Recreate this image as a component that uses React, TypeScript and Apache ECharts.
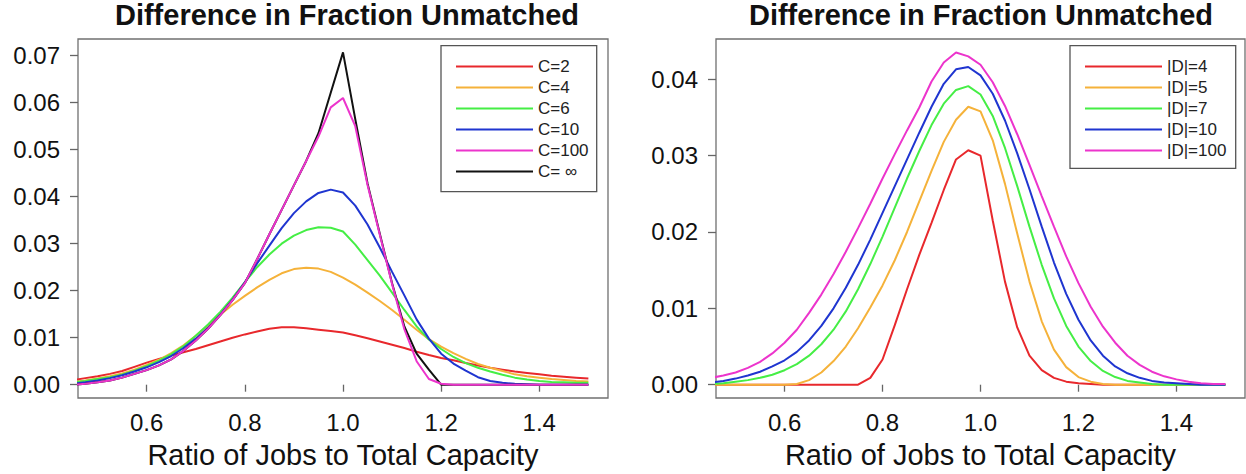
import React, { useEffect, useRef } from "react";
import * as echarts from "echarts";

const FONT = '"Liberation Sans", Arial, Helvetica, sans-serif';
const TITLE = "Difference in Fraction Unmatched";
const X_TITLE = "Ratio of Jobs to Total Capacity";

const X = [0.45, 0.475, 0.5, 0.525, 0.55, 0.575, 0.6, 0.625, 0.65, 0.675, 0.7, 0.725, 0.75, 0.775, 0.8, 0.825, 0.85, 0.875, 0.9, 0.925, 0.95, 0.975, 1.0, 1.025, 1.05, 1.075, 1.1, 1.125, 1.15, 1.175, 1.2, 1.225, 1.25, 1.275, 1.3, 1.325, 1.35, 1.375, 1.4, 1.425, 1.45, 1.475, 1.5];
const X_TICKS = [0.6, 0.8, 1.0, 1.2, 1.4];
const Y_TICKS_LEFT = [0, 0.01, 0.02, 0.03, 0.04, 0.05, 0.06, 0.07];
const Y_TICKS_RIGHT = [0, 0.01, 0.02, 0.03, 0.04];

// Left panel
const C2 = [0.0010, 0.0014, 0.0018, 0.0023, 0.0029, 0.0038, 0.0047, 0.0055, 0.0062, 0.0069, 0.0076, 0.0084, 0.0092, 0.0100, 0.0107, 0.0113, 0.0119, 0.0122, 0.0122, 0.0120, 0.0117, 0.0114, 0.0111, 0.0105, 0.0099, 0.0092, 0.0085, 0.0078, 0.0070, 0.0063, 0.0057, 0.0052, 0.0046, 0.0041, 0.0036, 0.0032, 0.0028, 0.0025, 0.0022, 0.0019, 0.0017, 0.0015, 0.0013];
const C4 = [0.0006, 0.0009, 0.0013, 0.0018, 0.0024, 0.0032, 0.0042, 0.0053, 0.0067, 0.0084, 0.0104, 0.0126, 0.0149, 0.0170, 0.0189, 0.0207, 0.0223, 0.0237, 0.0246, 0.0249, 0.0247, 0.0240, 0.0228, 0.0213, 0.0196, 0.0178, 0.0159, 0.0138, 0.0117, 0.0097, 0.0081, 0.0067, 0.0055, 0.0044, 0.0036, 0.0029, 0.0022, 0.0018, 0.0015, 0.0012, 0.0010, 0.0008, 0.0007];
const C6 = [0.0005, 0.0008, 0.0012, 0.0016, 0.0022, 0.0030, 0.0040, 0.0051, 0.0065, 0.0082, 0.0104, 0.0128, 0.0155, 0.0185, 0.0218, 0.0250, 0.0277, 0.0300, 0.0317, 0.0329, 0.0335, 0.0334, 0.0326, 0.0298, 0.0265, 0.0232, 0.0196, 0.0159, 0.0124, 0.0096, 0.0076, 0.0059, 0.0046, 0.0036, 0.0028, 0.0021, 0.0015, 0.0011, 0.0008, 0.0006, 0.0005, 0.0004, 0.0004];
const C10 = [0.0002, 0.0005, 0.0009, 0.0014, 0.0020, 0.0028, 0.0037, 0.0048, 0.0061, 0.0078, 0.0098, 0.0121, 0.0149, 0.0181, 0.0218, 0.0258, 0.0296, 0.0333, 0.0365, 0.0390, 0.0408, 0.0415, 0.0409, 0.0381, 0.0341, 0.0292, 0.0240, 0.0190, 0.0139, 0.0098, 0.0066, 0.0045, 0.0030, 0.0016, 0.0008, 0.0004, 0.0002, 0.0001, 0, 0, 0, 0, 0];
const C100 = [0.0000, 0.0002, 0.0005, 0.0009, 0.0015, 0.0023, 0.0031, 0.0041, 0.0054, 0.0072, 0.0094, 0.0119, 0.0148, 0.0180, 0.0216, 0.0267, 0.0320, 0.0372, 0.0424, 0.0476, 0.0528, 0.0590, 0.0610, 0.0550, 0.0425, 0.0319, 0.0214, 0.0118, 0.0050, 0.0012, 0.0002, 0, 0, 0, 0, 0, 0, 0, 0, 0, 0, 0, 0];
const CINF = [0.0000, 0.0002, 0.0005, 0.0009, 0.0015, 0.0023, 0.0031, 0.0041, 0.0054, 0.0072, 0.0094, 0.0119, 0.0148, 0.0180, 0.0216, 0.0267, 0.0320, 0.0372, 0.0424, 0.0476, 0.0535, 0.0621, 0.0707, 0.0565, 0.0428, 0.0321, 0.0216, 0.0124, 0.0066, 0.0032, 0.0000, 0, 0, 0, 0, 0, 0, 0, 0, 0, 0, 0, 0];

// Right panel
const D4 = [0, 0, 0, 0, 0, 0, 0, 0, 0, 0, 0, 0, 0, 0.0009, 0.0033, 0.0078, 0.0125, 0.0170, 0.0212, 0.0255, 0.0295, 0.0307, 0.0300, 0.0215, 0.0135, 0.0075, 0.0038, 0.0019, 0.0009, 0.0004, 0.0002, 0.0001, 0, 0, 0, 0, 0, 0, 0, 0, 0, 0, 0];
const D5 = [0, 0, 0, 0, 0, 0, 0, 0.0001, 0.0006, 0.0016, 0.0031, 0.0050, 0.0074, 0.0101, 0.0130, 0.0163, 0.0200, 0.0240, 0.0280, 0.0318, 0.0347, 0.0364, 0.0358, 0.0320, 0.0263, 0.0198, 0.0135, 0.0083, 0.0046, 0.0023, 0.0010, 0.0004, 0.0001, 0, 0, 0, 0, 0, 0, 0, 0, 0, 0];
const D7 = [0.0001, 0.0002, 0.0004, 0.0006, 0.0009, 0.0013, 0.0019, 0.0027, 0.0038, 0.0053, 0.0072, 0.0096, 0.0125, 0.0158, 0.0194, 0.0232, 0.0270, 0.0306, 0.0340, 0.0368, 0.0386, 0.0391, 0.0380, 0.0352, 0.0310, 0.0260, 0.0207, 0.0157, 0.0113, 0.0077, 0.0050, 0.0031, 0.0018, 0.0010, 0.0005, 0.0003, 0.0001, 0, 0, 0, 0, 0, 0];
const D10 = [0.0003, 0.0005, 0.0008, 0.0012, 0.0017, 0.0024, 0.0032, 0.0043, 0.0058, 0.0077, 0.0100, 0.0127, 0.0157, 0.0190, 0.0225, 0.0260, 0.0295, 0.0330, 0.0364, 0.0394, 0.0413, 0.0416, 0.0405, 0.0381, 0.0346, 0.0303, 0.0256, 0.0207, 0.0160, 0.0119, 0.0085, 0.0058, 0.0038, 0.0024, 0.0015, 0.0009, 0.0005, 0.0003, 0.0002, 0.0001, 0, 0, 0];
const D100 = [0.0009, 0.0012, 0.0016, 0.0022, 0.0030, 0.0041, 0.0055, 0.0072, 0.0094, 0.0118, 0.0145, 0.0174, 0.0205, 0.0237, 0.0270, 0.0302, 0.0333, 0.0363, 0.0397, 0.0422, 0.0435, 0.0430, 0.0419, 0.0396, 0.0365, 0.0328, 0.0288, 0.0247, 0.0207, 0.0168, 0.0133, 0.0102, 0.0076, 0.0055, 0.0038, 0.0026, 0.0017, 0.0011, 0.0007, 0.0004, 0.0002, 0.0001, 0.0001];

const LEFT_NAMES = ["C=2", "C=4", "C=6", "C=10", "C=100", "C= \u221e"];
const RIGHT_NAMES = ["|D|=4", "|D|=5", "|D|=7", "|D|=10", "|D|=100"];

const RED = "#e8282c";
const ORANGE = "#f5b23a";
const GREEN = "#45ee45";
const BLUE = "#1f35d0";
const MAGENTA = "#ec34cc";
const BLACK = "#111111";

function pairs(ys: number[]) {
  return X.map((x, i) => [x, ys[i]]);
}

function line(name: string, ys: number[], color: string, idx: number) {
  return {
    name,
    type: "line",
    xAxisIndex: idx,
    yAxisIndex: idx,
    data: pairs(ys),
    symbol: "none",
    showSymbol: false,
    clip: true,
    color,
    lineStyle: { color, width: 2 },
    emphasis: { disabled: true },
  };
}

function xAxis(idx: number) {
  return {
    gridIndex: idx,
    type: "value",
    min: 0.46,
    max: 1.54,
    axisLine: { show: false },
    axisTick: { show: true, inside: false, length: 7, customValues: X_TICKS, lineStyle: { color: "#666", width: 1.3 } },
    axisLabel: { customValues: X_TICKS, formatter: (v: number) => v.toFixed(1), fontSize: 24, color: "#111", margin: 12, fontFamily: FONT },
    splitLine: { show: false },
    name: X_TITLE,
    nameLocation: "middle",
    nameGap: 42,
    nameTextStyle: { fontSize: 29, color: "#111", fontFamily: FONT },
  };
}

function yAxis(idx: number, min: number, max: number, ticks: number[]) {
  return {
    gridIndex: idx,
    type: "value",
    min,
    max,
    axisLine: { show: false },
    axisTick: { show: true, inside: false, length: 8, customValues: ticks, lineStyle: { color: "#666", width: 1.3 } },
    axisLabel: { customValues: ticks, formatter: (v: number) => v.toFixed(2), fontSize: 24, color: "#111", margin: 18, fontFamily: FONT },
    splitLine: { show: false },
  };
}

function legend(names: string[], left: number) {
  return {
    data: names.map((n) => ({ name: n, icon: "rect" })),
    orient: "vertical",
    left,
    top: 56,
    padding: 0,
    itemGap: 0,
    itemWidth: 77,
    itemHeight: 2,
    z: 6,
    selectedMode: false,
    textStyle: { fontSize: 17, color: "#222", lineHeight: 21, fontFamily: FONT },
  };
}

export default function App() {
  const ref = useRef<HTMLDivElement>(null);
  useEffect(() => {
    if (!ref.current) return;
    const chart = echarts.init(ref.current, undefined, { renderer: "svg" });
    chart.setOption({
      animation: false,
      backgroundColor: "#ffffff",
      textStyle: { fontFamily: FONT },
      grid: [
        { left: 78, top: 39, width: 530, height: 359, show: true, borderColor: "#707070", borderWidth: 1.3, backgroundColor: "transparent" },
        { left: 716, top: 39, width: 529, height: 359, show: true, borderColor: "#707070", borderWidth: 1.3, backgroundColor: "transparent" },
      ],
      xAxis: [xAxis(0), xAxis(1)],
      yAxis: [yAxis(0, -0.00283, 0.07355, Y_TICKS_LEFT), yAxis(1, -0.00174, 0.04527, Y_TICKS_RIGHT)],
      legend: [legend(LEFT_NAMES, 456), legend(RIGHT_NAMES, 1085)],
      series: [
        line(LEFT_NAMES[0], C2, RED, 0),
        line(LEFT_NAMES[1], C4, ORANGE, 0),
        line(LEFT_NAMES[2], C6, GREEN, 0),
        line(LEFT_NAMES[3], C10, BLUE, 0),
        line(LEFT_NAMES[5], CINF, BLACK, 0),
        line(LEFT_NAMES[4], C100, MAGENTA, 0),
        line(RIGHT_NAMES[0], D4, RED, 1),
        line(RIGHT_NAMES[1], D5, ORANGE, 1),
        line(RIGHT_NAMES[2], D7, GREEN, 1),
        line(RIGHT_NAMES[3], D10, BLUE, 1),
        line(RIGHT_NAMES[4], D100, MAGENTA, 1),
      ],
      graphic: [
        { type: "text", x: 347, y: 15, z: 10, style: { text: TITLE, textAlign: "center", textVerticalAlign: "middle", fontSize: 29, fontWeight: "bold", fontFamily: FONT, fill: "#111" } },
        { type: "text", x: 981, y: 15, z: 10, style: { text: TITLE, textAlign: "center", textVerticalAlign: "middle", fontSize: 29, fontWeight: "bold", fontFamily: FONT, fill: "#111" } },
        { type: "rect", z: 5, shape: { x: 441, y: 45.7, width: 155.7, height: 146 }, style: { fill: "#ffffff", stroke: "#555", lineWidth: 1.3 } },
        { type: "rect", z: 5, shape: { x: 1070, y: 45.7, width: 165.7, height: 122.6 }, style: { fill: "#ffffff", stroke: "#555", lineWidth: 1.3 } },
      ],
    });
    return () => chart.dispose();
  }, []);
  return <div ref={ref} style={{ position: "absolute", left: 0, top: 0, width: 1246, height: 474 }} />;
}
